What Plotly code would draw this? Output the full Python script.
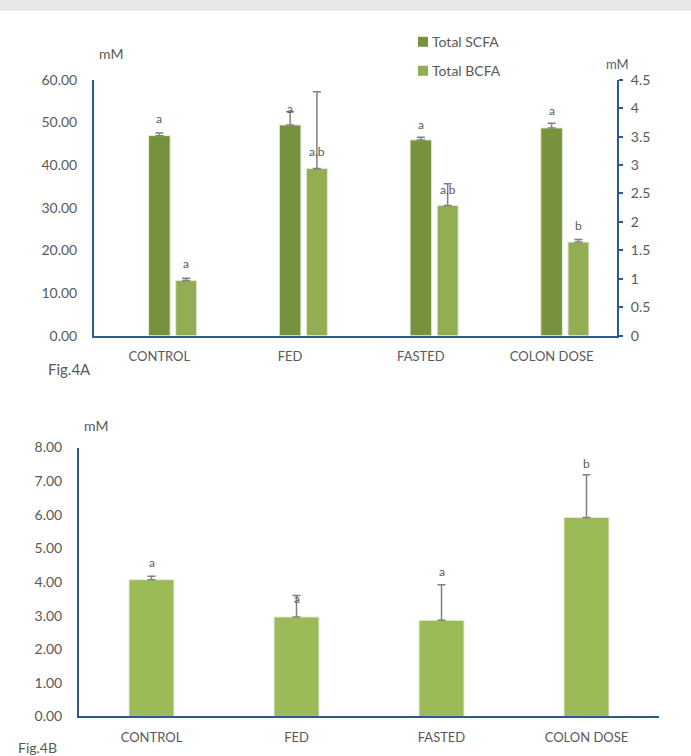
import plotly.graph_objects as go

W, H = 691, 756

categories = ["CONTROL", "FED", "FASTED", "COLON DOSE"]

# Fig.4A
scfa = [46.9, 49.4, 45.9, 48.7]
scfa_err = [0.6, 3.1, 0.6, 1.1]
scfa_labels = ["a", "a", "a", "a"]
scfa_label_y = [50.9, 53.3, 49.6, 52.8]

bcfa = [0.97, 2.94, 2.29, 1.645]
bcfa_err = [0.04, 1.35, 0.38, 0.045]
bcfa_labels = ["a", "a,b", "a,b", "b"]
bcfa_label_y = [1.27, 3.23, 2.57, 1.945]

# Fig.4B
total = [4.07, 2.96, 2.86, 5.92]
total_err = [0.10, 0.64, 1.06, 1.27]
total_labels = ["a", "a", "a", "b"]
total_label_y = [4.59, 3.50, 4.30, 7.53]

left_ticks = [0, 10, 20, 30, 40, 50, 60]
right_ticks = [0, 0.5, 1, 1.5, 2, 2.5, 3, 3.5, 4, 4.5]
bottom_ticks = [0, 1, 2, 3, 4, 5, 6, 7, 8]

legend_names = ["Total SCFA", "Total BCFA"]

FONT = "Lato, 'Open Sans', sans-serif"
GREY = "#595959"
AXIS = "#2F5A8C"
C_SCFA = "#77923C"
C_BCFA = "#93AE52"
C_TOT = "#9BBB59"
ERR = "#808080"
EDGE = "#E3EBD3"
CLEAR = "rgba(0,0,0,0)"

# observed vertical placement of the page in the capture
VA, VB = 0.978, 7.2

def px_x(x):
    return x / W

def px_y(y):
    return 1 - ((y - VB) / VA) / H

def up_err(arr):
    return dict(type="data", symmetric=False, array=arr, arrayminus=[0] * len(arr),
                color=ERR, thickness=1.5, width=4)

fig = go.Figure()

fig.add_trace(go.Bar(
    x=categories, y=scfa, name=legend_names[0], xaxis="x", yaxis="y", showlegend=False,
    marker=dict(color=C_SCFA, line=dict(color=EDGE, width=1)),
    width=0.165, offset=-0.0825, error_y=up_err(scfa_err),
))
fig.add_trace(go.Bar(
    x=categories, y=bcfa, name=legend_names[1], xaxis="x", yaxis="y2", showlegend=False,
    marker=dict(color=C_BCFA, line=dict(color=EDGE, width=1)),
    width=0.16, offset=0.125, error_y=up_err(bcfa_err),
))
# invisible carrier so the right-hand tick labels axis is drawn
fig.add_trace(go.Scatter(
    x=categories, y=bcfa, xaxis="x", yaxis="y4", mode="markers",
    marker=dict(opacity=0), showlegend=False, hoverinfo="skip",
))
fig.add_trace(go.Bar(
    x=categories, y=total, name="Total", xaxis="x3", yaxis="y3", showlegend=False,
    marker=dict(color=C_TOT, line=dict(color=EDGE, width=1)),
    width=0.31, error_y=up_err(total_err),
))

annotations = []
lab_font = dict(size=12, color=GREY, family=FONT)
for i, c in enumerate(categories):
    annotations.append(dict(x=i, y=scfa_label_y[i], xref="x", yref="y", text=scfa_labels[i],
                            showarrow=False, font=lab_font))
    annotations.append(dict(x=i + 0.205, y=bcfa_label_y[i], xref="x", yref="y2", text=bcfa_labels[i],
                            showarrow=False, font=lab_font))
    annotations.append(dict(x=i, y=total_label_y[i], xref="x3", yref="y3", text=total_labels[i],
                            showarrow=False, font=lab_font))

def text(x, y, t, size=13, anchor="center", yanchor="middle"):
    annotations.append(dict(x=px_x(x), y=px_y(y), xref="paper", yref="paper", text=t,
                            showarrow=False, xanchor=anchor, yanchor=yanchor,
                            font=dict(size=size, color=GREY, family=FONT)))

text(111, 52, "mM", size=14)
text(617, 62, "mM", size=13)
text(46, 367, "Fig.4A", size=15, anchor="left")
text(96, 424, "mM", size=14)
text(16, 746, "Fig.4B", size=14, anchor="left")

shapes = [dict(type="rect", xref="paper", yref="paper", x0=0, x1=1,
               y0=px_y(9), y1=1.05, fillcolor="#E6E7E9", line=dict(width=0), layer="below")]

# manual legend
for name, col, yc in zip(legend_names, [C_SCFA, C_BCFA], [40, 69]):
    shapes.append(dict(type="rect", xref="paper", yref="paper",
                       x0=px_x(418), x1=px_x(428), y0=px_y(yc + 5), y1=px_y(yc - 5),
                       fillcolor=col, line=dict(width=0)))
    text(430, yc, name, size=14, anchor="left")

tickfont = dict(size=14, color=GREY, family=FONT)
xtickfont = dict(size=13, color=GREY, family=FONT)

fig.update_layout(
    width=W, height=H,
    margin=dict(l=0, r=0, t=0, b=0),
    paper_bgcolor="white", plot_bgcolor="white",
    barmode="overlay",
    font=dict(family=FONT, color=GREY),
    showlegend=False,
    xaxis=dict(domain=[px_x(94), px_x(617)], anchor="y", range=[-0.5, 3.5],
               showline=True, linecolor=AXIS, linewidth=2, showgrid=False,
               ticks="", tickfont=xtickfont, ticklabelstandoff=8),
    yaxis=dict(domain=[px_y(334), px_y(78)], anchor="x", range=[0, 60],
               tickvals=left_ticks, ticktext=[f"{v:.2f}" for v in left_ticks],
               showline=True, linecolor=AXIS, linewidth=2, showgrid=False, zeroline=False,
               ticks="outside", ticklen=12, tickcolor=CLEAR, tickfont=tickfont),
    yaxis2=dict(overlaying="y", side="right", anchor="x", range=[0, 4.5],
                tickvals=right_ticks, showticklabels=False,
                showline=True, linecolor=AXIS, linewidth=2, showgrid=False, zeroline=False,
                ticks="outside", ticklen=4, tickcolor=AXIS, tickwidth=1.5),
    yaxis4=dict(overlaying="y", side="right", anchor="x", range=[0, 4.5],
                tickvals=right_ticks, ticktext=[f"{v:g}" for v in right_ticks],
                showline=False, showgrid=False, zeroline=False,
                ticks="outside", ticklen=10, tickcolor=CLEAR, tickfont=tickfont),
    xaxis3=dict(domain=[px_x(79), px_x(659)], anchor="y3", range=[-0.5, 3.5],
                showline=True, linecolor=AXIS, linewidth=2, showgrid=False,
                ticks="", tickfont=xtickfont, ticklabelstandoff=8),
    yaxis3=dict(domain=[px_y(715), px_y(446)], anchor="x3", range=[0, 8],
                tickvals=bottom_ticks, ticktext=[f"{v:.2f}" for v in bottom_ticks],
                showline=True, linecolor=AXIS, linewidth=2, showgrid=False, zeroline=False,
                ticks="outside", ticklen=12, tickcolor=CLEAR, tickfont=tickfont),
    annotations=annotations,
    shapes=shapes,
)

fig.write_html("out.html")
